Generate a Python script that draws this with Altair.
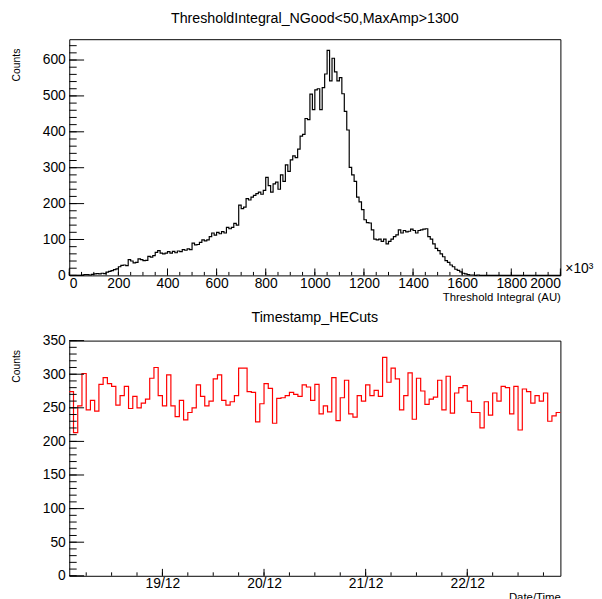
import altair as alt
import pandas as pd

FONT = "Liberation Sans"

# ---------------- data: top histogram (200 bins, 0..2000, width 10) ----------------
top_x_min = 0
top_x_max = 2000
top_counts = [
    0, 0, 0, 0, 0, 1, 2, 2, 1, 3,
    4, 5, 4, 6, 5, 9, 11, 13, 16, 18,
    24, 28, 29, 27, 44, 40, 35, 36, 46, 44,
    41, 42, 53, 51, 55, 64, 69, 62, 60, 62,
    66, 62, 67, 63, 68, 66, 72, 70, 74, 72,
    90, 85, 86, 92, 99, 96, 99, 108, 118, 112,
    120, 116, 122, 118, 134, 130, 134, 145, 140, 196,
    186, 190, 214, 210, 218, 223, 228, 232, 226, 237,
    273, 250, 232, 255, 260, 240, 280, 262, 308, 290,
    322, 333, 328, 352, 388, 393, 437, 434, 505, 462,
    517, 520, 462, 523, 561, 627, 542, 605, 567, 542,
    551, 506, 457, 405, 301, 280, 262, 218, 205, 183,
    155, 147, 146, 127, 101, 99, 101, 95, 101, 88,
    95, 101, 108, 113, 127, 118, 125, 121, 123, 129,
    125, 118, 125, 127, 129, 130, 108, 101, 88, 75,
    69, 60, 52, 41, 36, 29, 24, 17, 14, 10,
    6, 4, 2, 1, 1, 0, 1, 0, 0, 0,
    0, 0, 0, 0, 0, 0, 0, 0, 0, 0,
    0, 0, 0, 0, 0, 0, 0, 0, 0, 0,
    0, 0, 0, 0, 0, 0, 0, 0, 0, 0,
]
top_y_max = 658
top_x_major = [0, 200, 400, 600, 800, 1000, 1200, 1400, 1600, 1800, 2000]
top_x_minor = list(range(0, 2001, 50))
top_y_major = [0, 100, 200, 300, 400, 500, 600]
top_y_minor = list(range(0, 641, 20))

# ---------------- data: timestamp histogram (hourly bins, hours since 18/12 00:00) ----------------
time_start_hour = 2
time_counts = [
    274, 213, 253, 301, 247, 261, 245, 285, 295, 286,
    282, 254, 268, 282, 249, 267, 250, 257, 263, 294,
    310, 268, 253, 299, 253, 237, 261, 232, 243, 250,
    284, 267, 253, 260, 293, 299, 261, 254, 259, 268,
    309, 309, 274, 273, 229, 256, 286, 279, 227, 264,
    265, 268, 273, 270, 267, 284, 281, 261, 285,
    241, 253, 244, 295, 231, 265, 291, 241, 236, 268,
    260, 284, 268, 276, 267, 325, 288, 309, 293, 247,
    268, 302, 233, 294, 275, 255, 263, 266, 291, 247,
    297, 242, 272, 280, 283, 260, 243, 243, 220, 259,
    239, 272, 260, 282, 280, 241, 282, 217, 278, 274,
    257, 268, 260, 272, 230, 238, 243,
]
time_end_hour = time_start_hour + len(time_counts)
day_ticks = [24, 48, 72, 96]
day_labels = ["19/12", "20/12", "21/12", "22/12"]
time_minor = [h for h in range(6, time_end_hour + 1, 6)]
bot_y_max = 350
bot_y_major = [0, 50, 100, 150, 200, 250, 300, 350]
bot_y_minor = list(range(0, 351, 10))

# ---------------- layout ----------------
W = 497
H1 = 239
H2 = 238
MAJ_Y = 15
MIN_Y = 7.5
MAJ_X = 7
MIN_X = 3.5

def x_axis(values, title, **kw):
    return alt.Axis(values=values, title=title, titleAnchor="end", titleAlign="right",
                    titleX=W, titleY=16, titleBaseline="top", labelPadding=1, **kw)

def y_axis(values, title):
    return alt.Axis(values=values, format="d", title=title, titleAngle=270, titleAlign="right",
                    titleX=-48, titleY=9, titleBaseline="bottom", labelPadding=4,
                    titleFontSize=10.5)

def yticks(vals, scale, axis, length):
    return alt.Chart(pd.DataFrame({"v": vals})).mark_rule(color="black", strokeWidth=1).encode(
        y=alt.Y("v:Q", scale=scale, axis=axis), x=alt.value(0), x2=alt.value(length))

def xticks(vals, scale, axis, h, length):
    return alt.Chart(pd.DataFrame({"v": vals})).mark_rule(color="black", strokeWidth=1).encode(
        x=alt.X("v:Q", scale=scale, axis=axis), y=alt.value(h), y2=alt.value(h - length))

def panel_title(text, offset):
    return alt.TitleParams(text, fontSize=14.4, fontWeight="normal", font=FONT, anchor="middle",
                           offset=offset, frame="group", color="black")

# ---------------- top panel ----------------
top_edges = [top_x_min + i * (top_x_max - top_x_min) / len(top_counts) for i in range(len(top_counts) + 1)]
df_top = pd.DataFrame({"x": top_edges, "count": top_counts + [top_counts[-1]]})

xs1 = alt.Scale(domain=[top_x_min, top_x_max], nice=False, zero=False)
ys1 = alt.Scale(domain=[0, top_y_max], nice=False)
xa1 = x_axis(top_x_major, "Threshold Integral (AU)", format="d")
ya1 = y_axis(top_y_major, "Counts")

hist1 = alt.Chart(df_top).mark_line(interpolate="step-after", color="black", strokeWidth=1.2).encode(
    x=alt.X("x:Q", scale=xs1, axis=xa1),
    y=alt.Y("count:Q", scale=ys1, axis=ya1),
)

exp_text = alt.Chart(pd.DataFrame({"t": ["×10³"]})).mark_text(
    align="left", baseline="middle", fontSize=14, font=FONT, color="black").encode(
    text="t:N", x=alt.value(W + 5), y=alt.value(H1 - 6))

top = alt.layer(
    hist1,
    yticks(top_y_minor, ys1, ya1, MIN_Y), yticks(top_y_major, ys1, ya1, MAJ_Y),
    xticks(top_x_minor, xs1, xa1, H1, MIN_X), xticks(top_x_major, xs1, xa1, H1, MAJ_X),
    exp_text,
).properties(width=W, height=H1, title=panel_title("ThresholdIntegral_NGood<50,MaxAmp>1300", 13))

# ---------------- bottom panel ----------------
bot_edges = [time_start_hour + i for i in range(len(time_counts) + 1)]
df_bot = pd.DataFrame({"t": bot_edges, "count": time_counts + [time_counts[-1]]})

xs2 = alt.Scale(domain=[time_start_hour, time_end_hour], nice=False, zero=False)
ys2 = alt.Scale(domain=[0, bot_y_max], nice=False)

label_expr = "''"
for v, lab in reversed(list(zip(day_ticks, day_labels))):
    label_expr = f"datum.value == {v} ? '{lab}' : ({label_expr})"

xa2 = x_axis(day_ticks, "Date/Time", labelExpr=label_expr)
ya2 = y_axis(bot_y_major, "Counts")

hist2 = alt.Chart(df_bot).mark_line(interpolate="step-after", color="#ff0000", strokeWidth=1.2).encode(
    x=alt.X("t:Q", scale=xs2, axis=xa2),
    y=alt.Y("count:Q", scale=ys2, axis=ya2),
)

bottom = alt.layer(
    hist2,
    yticks(bot_y_minor, ys2, ya2, MIN_Y), yticks(bot_y_major, ys2, ya2, MAJ_Y),
    xticks(time_minor, xs2, xa2, H2, MIN_X), xticks(day_ticks, xs2, xa2, H2, MAJ_X),
).properties(width=W, height=H2, title=panel_title("Timestamp_HECuts", 8))

chart = alt.vconcat(top, bottom, spacing=66, bounds="flush").properties(
    padding={"left": 3, "top": -1, "right": 0, "bottom": 0},
    background="white",
).configure_view(
    stroke="black", strokeWidth=1,
).configure_axis(
    domain=False, ticks=False, grid=False,
    labelFont=FONT, labelFontSize=14, labelColor="black",
    titleFont=FONT, titleFontSize=11.5, titleFontWeight="normal", titleColor="black",
    labelOverlap=False,
)

chart.save("out.html", embed_options={"renderer": "svg", "actions": False})
